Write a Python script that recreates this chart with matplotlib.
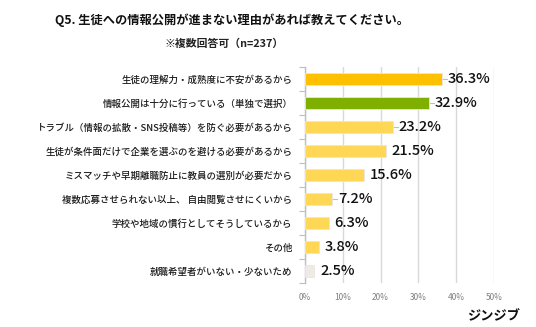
import matplotlib
matplotlib.use("Agg")
import matplotlib.pyplot as plt
import numpy as np

plt.rcParams['font.family'] = ['Noto Sans CJK JP', 'DejaVu Sans']

categories = [
    "生徒の理解力・成熟度に不安があるから",
    "情報公開は十分に行っている（単独で選択）",
    "トラブル（情報の拡散・SNS投稿等）を防ぐ必要があるから",
    "生徒が条件面だけで企業を選ぶのを避ける必要があるから",
    "ミスマッチや早期離職防止に教員の選別が必要だから",
    "複数応募させられない以上、 自由閲覧させにくいから",
    "学校や地域の慣行としてそうしているから",
    "その他",
    "就職希望者がいない・少ないため",
]
values = [36.3, 32.9, 23.2, 21.5, 15.6, 7.2, 6.3, 3.8, 2.5]
colors = ["#FFC000", "#7FAF00", "#FFD757", "#FFD757", "#FFD757",
          "#FFD757", "#FFD757", "#FFD757", "#EEEBE4"]
leader = [True, True, True, False, False, True, False, False, False]
xticks = [0, 10, 20, 30, 40, 50]
xticklabels = ["0%", "10%", "20%", "30%", "40%", "50%"]

fig = plt.figure(figsize=(5.36, 3.27), dpi=100)
ax = fig.add_axes([305/536, 1-283/327, (494-305)/536, (283-67)/327])

y = np.arange(len(categories))
ax.barh(y, values, height=0.52, color=colors, edgecolor="#E6E6E6", linewidth=0.6, zorder=3)
ax.set_ylim(len(categories)-0.5, -0.5)
ax.set_xlim(0, 50)
ax.set_xticks(xticks)
ax.set_xticklabels(xticklabels, fontsize=6, color="#7F7F7F")
ax.set_yticks(y)
ax.set_yticklabels(categories, fontsize=6.8, color="#1A1A1A", fontweight="medium")
ax.tick_params(axis='y', length=0, pad=9)
ax.tick_params(axis='x', length=0, pad=7)
ax.set_yticks(np.arange(-0.5, len(categories), 1), minor=True)
ax.tick_params(axis='y', which='minor', length=4, color="#BFBFBF", width=0.8)
ax.grid(axis='x', color="#D9D9D9", linewidth=1.0, zorder=0)
for s in ["top", "right", "bottom"]:
    ax.spines[s].set_visible(False)
ax.spines["left"].set_color("#BFBFBF")
ax.spines["left"].set_linewidth(1.0)

for i, v in enumerate(values):
    ax.text(v + 1.5, i, f"{v}%", va="center", ha="left", fontsize=10.5,
            color="#111111", fontweight="medium", zorder=4)
    if leader[i]:
        ax.plot([v + 0.3, v + 1.3], [i, i], color="#BFBFBF", linewidth=0.8, zorder=4)

fig.text(55/536, 1-20/327, "Q5. 生徒への情報公開が進まない理由があれば教えてください。",
         fontsize=8.8, fontweight="bold", va="center", ha="left", color="#111111")
fig.text(165/536, 1-44/327, "※複数回答可（n=237）",
         fontsize=7.8, fontweight="bold", va="center", ha="left", color="#222222")
fig.text(520/536, 1-316/327, "ジンジブ", fontsize=9.5, fontweight="bold",
         va="center", ha="right", color="#111111")

fig.savefig("out.png", dpi=100)
